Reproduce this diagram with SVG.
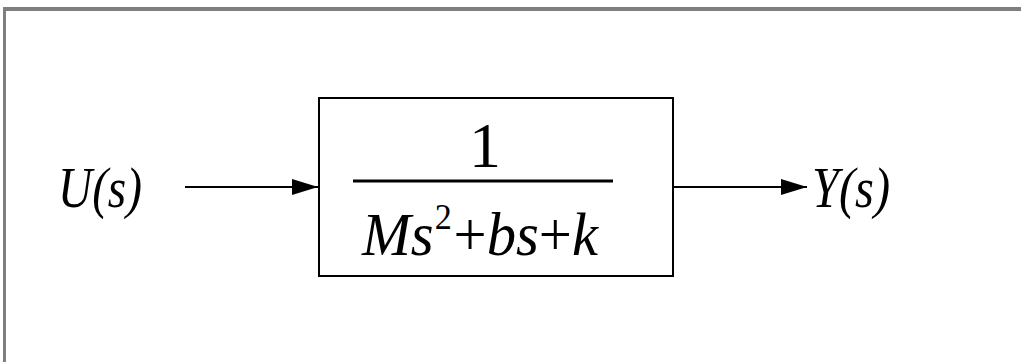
<svg xmlns="http://www.w3.org/2000/svg" width="1021" height="362" viewBox="0 0 1021 362">
<defs>
<style>
text{font-family:'Liberation Serif','DejaVu Serif',serif;fill:#000}
.i{font-style:italic}
.c{stroke:#000;stroke-width:2;fill:none}
</style>
<marker id="ah" viewBox="0 0 26 16" refX="26" refY="8" markerWidth="26" markerHeight="16" markerUnits="userSpaceOnUse" orient="auto">
<path d="M0,0 L26,8 L0,16 Z" fill="#000"/>
</marker>
</defs>
<rect width="1021" height="362" fill="#fff"/>
<g id="frame">
<line x1="3" y1="9" x2="1021" y2="9" stroke="#7f7f7f" stroke-width="4"/>
<line x1="4.5" y1="9" x2="4.5" y2="362" stroke="#7f7f7f" stroke-width="3"/>
</g>
<g id="input">
<text class="i" x="58" y="207" font-size="56" textLength="84" lengthAdjust="spacingAndGlyphs">U(s)</text>
</g>
<g id="block">
<rect x="319" y="98" width="354" height="178" fill="#fff" stroke="#000" stroke-width="2"/>
<text x="485" y="167" font-size="64" text-anchor="middle">1</text>
<line x1="353" y1="181" x2="613" y2="181" stroke="#000" stroke-width="3"/>
<text class="i" x="362" y="255" font-size="62" textLength="236" lengthAdjust="spacingAndGlyphs">Ms<tspan font-style="normal" font-size="36" dx="1" dy="-26">2</tspan><tspan dx="2" dy="26" font-style="normal">+</tspan>bs<tspan font-style="normal">+</tspan>k</text>
</g>
<g id="output">
<text class="i" x="812" y="207" font-size="56" textLength="78" lengthAdjust="spacingAndGlyphs">Y(s)</text>
</g>
<g id="connectors">
<line class="c" x1="185" y1="187" x2="318" y2="187" marker-end="url(#ah)"/>
<line class="c" x1="674" y1="187" x2="807" y2="187" marker-end="url(#ah)"/>
</g>
</svg>
